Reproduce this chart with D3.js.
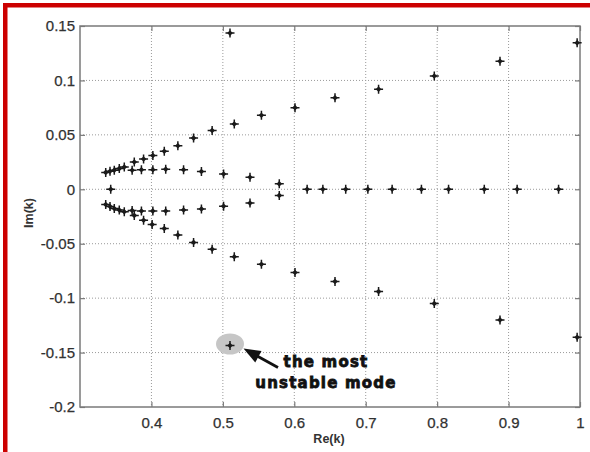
<!DOCTYPE html>
<html>
<head>
    <meta charset="utf-8">
    <title>Im(k) vs Re(k)</title>
    <script src="https://d3js.org/d3.v7.min.js" charset="utf-8"></script>
    <style>
        html, body { margin: 0; padding: 0; background: #fff; }
        svg { display: block; }
        text { font-family: "Liberation Sans", Arial, sans-serif; fill: #333; }
    </style>
</head>
<body>
<div id="chart"></div>
<script>
    // upper and lower arms of the spectrum
    const armUpRe  = [0.336, 0.342, 0.348, 0.355, 0.362, 0.376, 0.389, 0.402, 0.418, 0.437, 0.459, 0.485, 0.516, 0.554, 0.601, 0.657, 0.718, 0.796, 0.888, 0.996];
    const armUpIm  = [0.0155, 0.0165, 0.0176, 0.019, 0.0205, 0.025, 0.0278, 0.031, 0.035, 0.040, 0.047, 0.054, 0.060, 0.068, 0.075, 0.084, 0.092, 0.104, 0.1176, 0.1345];
    const armLowRe = [0.336, 0.342, 0.348, 0.355, 0.362, 0.376, 0.389, 0.401, 0.418, 0.437, 0.459, 0.485, 0.516, 0.554, 0.601, 0.657, 0.718, 0.796, 0.888, 0.996];
    const armLowIm = [-0.014, -0.0157, -0.0176, -0.019, -0.0206, -0.024, -0.0284, -0.0324, -0.036, -0.042, -0.0488, -0.055, -0.062, -0.0688, -0.0765, -0.0846, -0.094, -0.105, -0.120, -0.136];

    // inner rows close to the real axis
    const innerUpRe  = [0.373, 0.386, 0.402, 0.420, 0.445, 0.470, 0.501, 0.538, 0.579];
    const innerUpIm  = [0.0175, 0.018, 0.018, 0.0185, 0.018, 0.0164, 0.014, 0.011, 0.005];
    const innerLowRe = [0.373, 0.386, 0.402, 0.420, 0.445, 0.470, 0.501, 0.538, 0.579];
    const innerLowIm = [-0.0195, -0.020, -0.020, -0.020, -0.019, -0.018, -0.0155, -0.0127, -0.0056];

    // purely real modes
    const realRe = [0.343, 0.618, 0.640, 0.672, 0.703, 0.737, 0.778, 0.816, 0.866, 0.912, 0.970];
    const realIm = [0, 0, 0, 0, 0, 0, 0, 0, 0, 0, 0];

    // isolated pair (lower one is the most unstable mode)
    const isoRe = [0.510, 0.510];
    const isoIm = [0.1435, -0.1435];

    const xTicks = [0.4, 0.5, 0.6, 0.7, 0.8, 0.9, 1];
    const yTicks = [-0.2, -0.15, -0.1, -0.05, 0, 0.05, 0.1, 0.15];
    const xLabels = ["0.4", "0.5", "0.6", "0.7", "0.8", "0.9", "1"];
    const yLabels = ["-0.2", "-0.15", "-0.1", "-0.05", "0", "0.05", "0.1", "0.15"];

    const width = 590, height = 452;
    const plotL = 80, plotR = 580, plotT = 26, plotB = 407;

    const svg = d3.select("#chart").append("svg")
        .attr("width", width)
        .attr("height", height);

    svg.append("rect").attr("width", width).attr("height", height).attr("fill", "#fff");

    // red frame (top + left)
    svg.append("rect").attr("x", 3).attr("y", 3).attr("width", width - 3).attr("height", 4.5).attr("fill", "#cc0000");
    svg.append("rect").attr("x", 3).attr("y", 3).attr("width", 4.5).attr("height", height - 3).attr("fill", "#cc0000");

    const x = d3.scaleLinear().domain([0.3, 1]).range([plotL, plotR]);
    const y = d3.scaleLinear().domain([-0.2, 0.15]).range([plotB, plotT]);

    // dotted grid
    const grid = svg.append("g").attr("stroke", "#9a9a9a").attr("stroke-width", 1).attr("stroke-dasharray", "1,2");
    grid.selectAll(".gx").data(xTicks.slice(0, -1)).enter().append("line")
        .attr("x1", d => x(d)).attr("x2", d => x(d)).attr("y1", plotT).attr("y2", plotB);
    grid.selectAll(".gy").data(yTicks.slice(1, -1)).enter().append("line")
        .attr("y1", d => y(d)).attr("y2", d => y(d)).attr("x1", plotL).attr("x2", plotR);

    // axes: bottom/left with labels, top/right ticks only (box)
    const axisColor = "#7a7a7a";
    function styleAxis(g) {
        g.select(".domain").remove();
        g.selectAll(".tick line").attr("stroke", axisColor).attr("stroke-width", 1.2);
        g.selectAll(".tick text").attr("fill", "#2a2a2a").style("font-size", "15px")
            .style("font-family", "'Liberation Sans', Arial, sans-serif")
            .attr("stroke", "#2a2a2a").attr("stroke-width", 0.25);
    }
    svg.append("g").attr("transform", `translate(0,${plotB})`)
        .call(d3.axisBottom(x).tickValues(xTicks).tickFormat((d, i) => xLabels[i]).tickSizeInner(-5).tickPadding(10))
        .call(styleAxis);
    svg.append("g").attr("transform", `translate(${plotL},0)`)
        .call(d3.axisLeft(y).tickValues(yTicks).tickFormat((d, i) => yLabels[i]).tickSizeInner(-5).tickPadding(5))
        .call(styleAxis);
    svg.append("g").attr("transform", `translate(0,${plotT})`)
        .call(d3.axisTop(x).tickValues(xTicks).tickFormat("").tickSizeInner(-5))
        .call(styleAxis);
    svg.append("g").attr("transform", `translate(${plotR},0)`)
        .call(d3.axisRight(y).tickValues(yTicks).tickFormat("").tickSizeInner(-5))
        .call(styleAxis);

    svg.append("rect")
        .attr("x", plotL).attr("y", plotT).attr("width", plotR - plotL).attr("height", plotB - plotT)
        .attr("fill", "none").attr("stroke", axisColor).attr("stroke-width", 1.5);

    // axis titles
    svg.append("text")
        .attr("x", 329).attr("y", 443)
        .attr("text-anchor", "middle")
        .style("font-size", "12.5px").style("font-weight", "bold")
        .text("Re(k)");
    svg.append("text")
        .attr("transform", "translate(33,213) rotate(-90)")
        .attr("text-anchor", "middle")
        .style("font-size", "12.5px").style("font-weight", "bold")
        .text("Im(k)");

    // highlight of the most unstable mode
    const mx = x(isoRe[1]), my = y(isoIm[1]);
    svg.append("ellipse")
        .attr("cx", mx).attr("cy", my - 1.5)
        .attr("rx", 14).attr("ry", 10.5)
        .attr("fill", "#c6c6c6");

    // all points
    const points = [];
    function addSeries(re, im) { re.forEach((r, i) => points.push({ re: r, im: im[i] })); }
    addSeries(armUpRe, armUpIm);
    addSeries(armLowRe, armLowIm);
    addSeries(innerUpRe, innerUpIm);
    addSeries(innerLowRe, innerLowIm);
    addSeries(realRe, realIm);
    addSeries(isoRe, isoIm);

    const marker = svg.append("g").selectAll(".pt").data(points).enter().append("g")
        .attr("class", "pt")
        .attr("transform", d => `translate(${x(d.re)},${y(d.im)})`);
    marker.append("path")
        .attr("d", "M-4.5,0H4.5M0,-4.5V4.5")
        .attr("stroke", "#1a1a1a").attr("stroke-width", 1.5);
    marker.append("path")
        .attr("d", "M0,-2.8L2.8,0L0,2.8L-2.8,0Z")
        .attr("fill", "#1a1a1a");

    // arrow + caption
    const tip = [mx + 13.5, my + 3], tail = [mx + 48, my + 22];
    const dx = tip[0] - tail[0], dy = tip[1] - tail[1];
    const len = Math.sqrt(dx * dx + dy * dy);
    const ux = dx / len, uy = dy / len;
    const headLen = 17, headW = 6.5;
    const base = [tip[0] - ux * headLen, tip[1] - uy * headLen];
    svg.append("line")
        .attr("x1", tail[0]).attr("y1", tail[1])
        .attr("x2", base[0] + ux * 2).attr("y2", base[1] + uy * 2)
        .attr("stroke", "#111").attr("stroke-width", 2.8);
    svg.append("path")
        .attr("d", `M${tip[0]},${tip[1]}L${base[0] - uy * headW},${base[1] + ux * headW}L${base[0] + uy * headW},${base[1] - ux * headW}Z`)
        .attr("fill", "#111");

    const caption = svg.append("text")
        .attr("text-anchor", "middle")
        .style("font-family", "'DejaVu Sans', sans-serif")
        .style("font-size", "15px").style("font-weight", "bold")
        .style("letter-spacing", "1.2px")
        .style("fill", "#111")
        .attr("stroke", "#111").attr("stroke-width", 0.8);
    caption.append("tspan").attr("x", 326).attr("y", 367).text("the most");
    caption.append("tspan").attr("x", 326).attr("y", 388).text("unstable mode");
</script>
</body>
</html>
